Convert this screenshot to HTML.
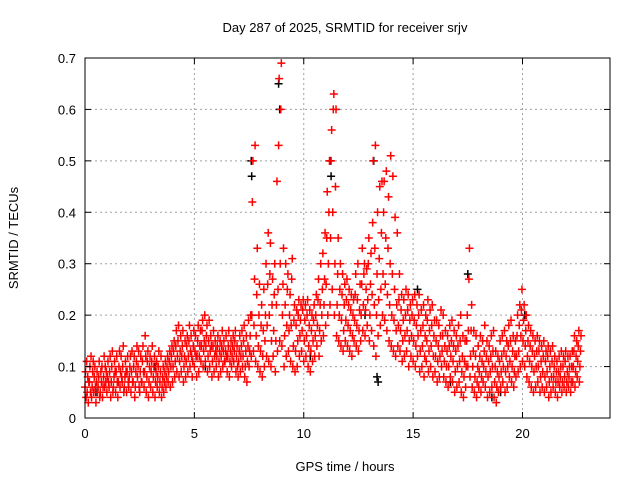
<!DOCTYPE html>
<html><head><meta charset="utf-8"><style>
body{margin:0;background:#fff;width:640px;height:480px;overflow:hidden}
svg{display:block;font-family:"Liberation Sans",sans-serif}
</style></head><body>
<svg id="c" width="640" height="480">
<text x="345" y="32" text-anchor="middle" font-size="13">Day 287 of 2025, SRMTID for receiver srjv</text>
<text x="345" y="471" text-anchor="middle" font-size="13">GPS time / hours</text>
<text transform="translate(18,238) rotate(-90)" text-anchor="middle" font-size="13">SRMTID / TECUs</text>
<g id="grid"></g>
<g id="blk"></g>
<g id="red"></g>
<rect x="85" y="58" width="525" height="360" fill="none" stroke="#000"/>
<g id="ticks"></g>
</svg>
<script>
const xTicks=[0,5,10,15,20];
const yTicks=[0,0.1,0.2,0.3,0.4,0.5,0.6,0.7];
const yTickLabels=["0","0.1","0.2","0.3","0.4","0.5","0.6","0.7"];
const binWidth=0.1;
const redBins=[
[.06,.09,.04,.11],[.05,.08,.03,.07],[.07,.1,.05,.12],[.04,.06,.09,.11],[.05,.08,.1,.06],[.03,.07,.09,.05],[.06,.08,.11,.04],[.05,.09,.07,.1],[.04,.06,.08,.12],[.06,.1,.07,.09],
[.05,.08,.11,.07],[.06,.09,.12,.04],[.07,.1,.13,.05],[.06,.08,.11,.09],[.05,.09,.12,.07],[.04,.07,.1,.13],[.06,.09,.12,.08],[.07,.1,.14,.05],[.06,.08,.11,.09],[.05,.09,.12,.07],
[.06,.08,.1,.12],[.05,.09,.13,.07],[.07,.1,.12,.04],[.06,.09,.11,.14],[.08,.1,.13,.06],[.05,.09,.12,.07],[.07,.11,.14,.09],[.06,.09,.16,.12],[.05,.08,.11,.13],[.04,.07,.1,.12],
[.06,.09,.11,.14],[.05,.08,.1,.12],[.04,.07,.09,.11],[.06,.08,.1,.13],[.05,.07,.09,.12],[.04,.06,.08,.1],[.05,.07,.09,.11],[.06,.08,.1,.12],[.07,.09,.11,.13],[.06,.1,.12,.14],
[.07,.1,.13,.15],[.08,.11,.14,.17],[.09,.12,.15,.18],[.08,.11,.13,.16],[.09,.12,.14,.17],[.07,.1,.12,.15],[.08,.11,.14,.16],[.09,.12,.15,.18],[.1,.13,.16,.12],[.08,.11,.14,.17],
[.1,.13,.16,.12],[.08,.12,.15,.18],[.09,.12,.14,.17],[.11,.14,.17,.19],[.1,.13,.15,.2],[.11,.14,.16,.18],[.09,.12,.15,.19],[.1,.13,.16,.14],[.08,.11,.14,.17],[.09,.12,.15,.13],
[.1,.12,.14,.16],[.08,.11,.13,.15],[.09,.12,.14,.17],[.1,.13,.15,.11],[.11,.13,.16,.12],[.09,.12,.14,.17],[.08,.11,.13,.15],[.1,.12,.14,.16],[.11,.13,.15,.17],[.09,.12,.14,.1],
[.08,.11,.13,.16],[.09,.12,.14,.17],[.1,.12,.15,.18],[.08,.1,.13,.16],[.07,.11,.14,.19],[.1,.13,.16,.2],[.12,.2,.42,.5],[.13,.18,.27,.53],[.11,.16,.24,.33],[.1,.14,.2,.26],
[.09,.13,.18,.22],[.08,.12,.17,.25],[.1,.15,.2,.3],[.12,.18,.26,.36],[.11,.2,.28,.34],[.1,.15,.22,.27],[.12,.17,.24,.3],[.09,.15,.22,.46],[.13,.25,.53,.66],[.15,.3,.6,.69],
[.14,.2,.26,.33],[.1,.16,.22,.3],[.12,.18,.25,.28],[.13,.17,.2,.24],[.11,.18,.27,.31],[.1,.14,.19,.22],[.09,.13,.18,.21],[.1,.15,.2,.23],[.12,.16,.19,.22],[.13,.17,.21,.23],
[.11,.15,.19,.22],[.12,.16,.2,.23],[.1,.14,.18,.21],[.09,.13,.17,.2],[.11,.15,.19,.22],[.12,.16,.2,.24],[.14,.18,.23,.27],[.12,.17,.22,.3],[.15,.2,.25,.32],[.16,.22,.27,.36],
[.18,.26,.35,.44],[.2,.3,.4,.5],[.22,.35,.5,.56],[.25,.4,.6,.63],[.2,.3,.45,.6],[.16,.22,.28,.35],[.15,.2,.25,.3],[.14,.19,.24,.28],[.13,.17,.22,.26],[.15,.19,.23,.27],
[.14,.18,.22,.25],[.13,.17,.21,.24],[.12,.16,.2,.23],[.15,.19,.24,.28],[.14,.18,.23,.3],[.13,.17,.21,.26],[.15,.2,.26,.33],[.17,.22,.28,.3],[.16,.21,.25,.29],[.18,.23,.3,.35],
[.15,.2,.26,.32],[.17,.24,.38,.5],[.14,.22,.33,.53],[.12,.2,.28,.4],[.16,.23,.31,.45],[.18,.25,.36,.46],[.2,.28,.4,.46],[.19,.26,.35,.48],[.17,.24,.33,.43],[.15,.22,.3,.51],
[.14,.2,.28,.47],[.13,.19,.25,.39],[.12,.17,.22,.36],[.14,.18,.23,.28],[.13,.17,.21,.24],[.11,.15,.19,.23],[.12,.16,.2,.25],[.13,.17,.21,.24],[.1,.15,.19,.22],[.12,.16,.2,.23],
[.11,.15,.19,.24],[.1,.14,.18,.22],[.12,.16,.2,.24],[.09,.13,.17,.21],[.1,.14,.18,.22],[.08,.12,.16,.2],[.11,.15,.19,.23],[.09,.13,.17,.21],[.1,.14,.18,.22],[.08,.12,.16,.19],
[.09,.12,.15,.19],[.07,.11,.14,.18],[.08,.12,.16,.21],[.1,.13,.16,.2],[.08,.11,.14,.17],[.07,.1,.13,.16],[.06,.1,.14,.18],[.08,.12,.15,.19],[.07,.11,.14,.17],[.05,.09,.13,.16],
[.06,.1,.14,.18],[.07,.11,.15,.2],[.05,.09,.12,.16],[.04,.08,.11,.15],[.06,.1,.15,.2],[.1,.17,.27,.33],[.08,.12,.17,.22],[.06,.1,.13,.17],[.05,.08,.12,.16],[.04,.07,.1,.14],
[.06,.09,.12,.16],[.05,.08,.11,.15],[.07,.1,.13,.18],[.06,.09,.12,.15],[.04,.08,.11,.14],[.05,.09,.12,.16],[.06,.1,.13,.17],[.04,.07,.1,.13],[.03,.06,.09,.12],[.05,.08,.11,.15],
[.06,.09,.12,.16],[.07,.1,.13,.17],[.05,.09,.12,.15],[.06,.1,.14,.18],[.08,.11,.15,.19],[.07,.1,.13,.16],[.06,.09,.12,.15],[.08,.12,.16,.2],[.09,.13,.18,.22],[.1,.16,.21,.25],
[.11,.15,.19,.22],[.1,.14,.17,.2],[.08,.12,.15,.18],[.07,.11,.14,.17],[.06,.1,.13,.16],[.05,.09,.12,.15],[.06,.1,.13,.16],[.07,.1,.13,.15],[.05,.08,.11,.14],[.06,.09,.12,.15],
[.05,.08,.11,.13],[.06,.09,.12,.14],[.04,.07,.1,.13],[.05,.08,.11,.14],[.06,.08,.1,.12],[.05,.07,.09,.11],[.04,.07,.09,.12],[.06,.08,.1,.13],[.05,.07,.1,.12],[.06,.08,.11,.13],
[.05,.07,.09,.12],[.06,.08,.1,.12],[.05,.07,.1,.13],[.07,.1,.13,.16],[.06,.09,.12,.15],[.08,.11,.14,.17],[.07,.1,.13,.16]
];
const blackTimes=[7.6,7.62,8.85,8.9,11.2,11.25,13.2,13.4,17.5,0.5,3.2,10.3,12.8,15.2,18.6,20.1,19.0,16.7,5.5,13.35];
const blackValues=[0.5,0.47,0.65,0.6,0.5,0.47,0.5,0.07,0.28,0.05,0.1,0.12,0.2,0.25,0.04,0.2,0.05,0.07,0.1,0.08];

const X0=85,X1=610,Y0=418,Y1=58,XMAX=24,YMAX=0.7;
const sx=t=>X0+t/XMAX*(X1-X0);
const sy=v=>Y0-v/YMAX*(Y0-Y1);
const NS="http://www.w3.org/2000/svg";
function mk(tag,attrs,parent){const e=document.createElementNS(NS,tag);for(const k in attrs)e.setAttribute(k,attrs[k]);parent.appendChild(e);return e;}
const grid=document.getElementById('grid'),ticks=document.getElementById('ticks');
xTicks.forEach((t,i)=>{
  const x=sx(t);
  if(i>0){const g=mk('line',{x1:x,x2:x,y1:Y1,y2:Y0,stroke:'#a0a0a0','stroke-dasharray':'2,3'},grid);
  
  }
  mk('line',{x1:x,x2:x,y1:Y0,y2:Y0-6,stroke:'#000'},ticks);
  mk('line',{x1:x,x2:x,y1:Y1,y2:Y1+6,stroke:'#000'},ticks);
  const l=mk('text',{x:x,y:Y0+20,'text-anchor':'middle','font-size':'13'},ticks);l.textContent=t;
  
  
});
yTicks.forEach((v,i)=>{
  const y=sy(v);
  if(i>0&&i<yTicks.length-1){const g=mk('line',{x1:X0,x2:X1,y1:y,y2:y,stroke:'#a0a0a0','stroke-dasharray':'2,3'},grid);
  
  }
  mk('line',{x1:X0,x2:X0+6,y1:y,y2:y,stroke:'#000'},ticks);
  mk('line',{x1:X1,x2:X1-6,y1:y,y2:y,stroke:'#000'},ticks);
  const l=mk('text',{x:X0-9,y:y+5,'text-anchor':'end','font-size':'13'},ticks);l.textContent=yTickLabels[i];
  
  
});
function plus(t,v,col,parent){
  const x=sx(t),y=sy(v);
  const p=mk('path',{d:`M${x-4},${y}h8M${x},${y-4}v8`,stroke:col,'stroke-width':'1.5',fill:'none'},parent);
  
  
}
const blk=document.getElementById('blk'),red=document.getElementById('red');
blackTimes.forEach((t,i)=>plus(t,blackValues[i],'#000',blk));
redBins.forEach((vals,i)=>{
  vals.forEach((v,k)=>plus(i*binWidth+k*binWidth/4,v,'#ff0000',red));
});
</script>
</body></html>
